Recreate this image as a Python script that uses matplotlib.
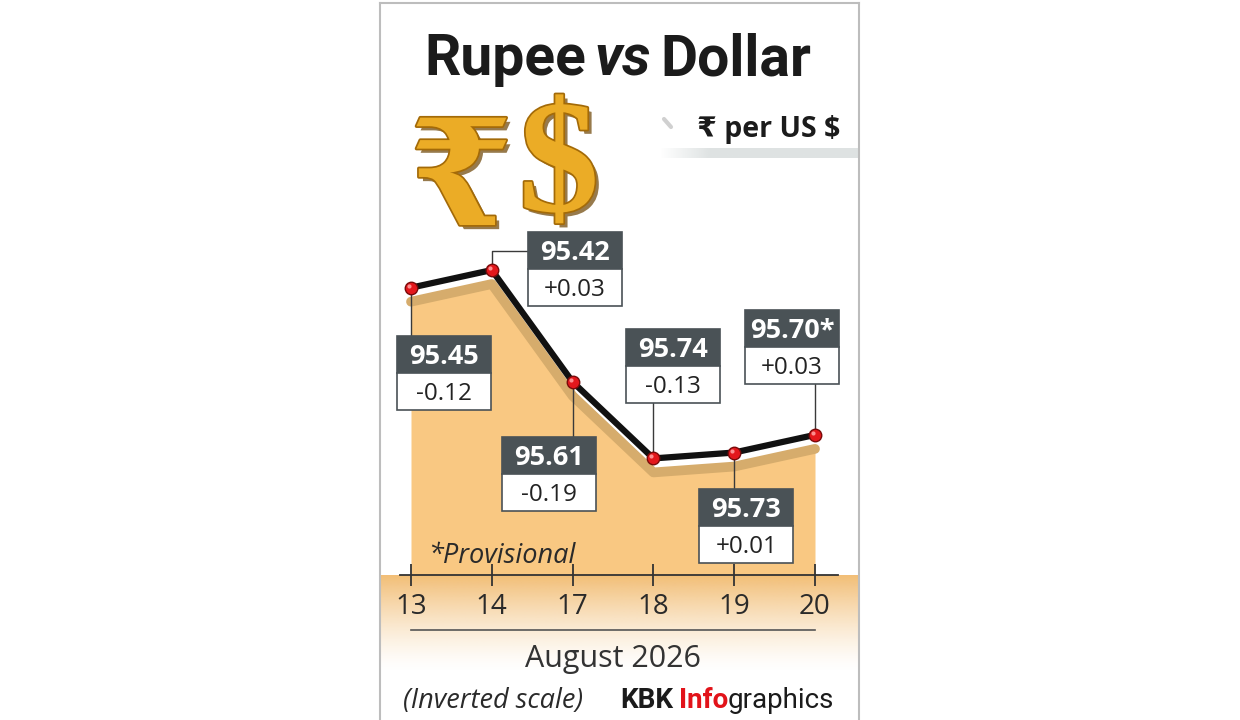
import numpy as np
import matplotlib
matplotlib.use("Agg")
from matplotlib import pyplot as plt
from matplotlib import patheffects as pe
from matplotlib import transforms as mtransforms
from matplotlib import font_manager
from matplotlib.colors import to_rgb
from matplotlib.patches import Rectangle

# 数据
dates = ["13", "14", "17", "18", "19", "20"]
rates = [95.45, 95.42, 95.61, 95.74, 95.73, 95.70]
changes = ["-0.12", "+0.03", "-0.19", "-0.13", "+0.01", "+0.03"]
provisional = [False, False, False, False, False, True]
month_label = "August 2026"

# 标签框相对数据点的位置 (像素)
box_dx = [33, 83, -24, 20, 12, -23]
box_dy = [48, -38, 55, -129, 36, -125]
BOX_W, HEAD_H, LOW_H = 94, 37, 37

plt.rcParams['font.family'] = ['Open Sans', 'DejaVu Sans']
installed = {f.name for f in font_manager.fontManager.ttflist}
if "Liberation Sans Narrow" in installed:
    narrow, title_size, foot_size = "Liberation Sans Narrow", 44, 22
else:
    narrow, title_size, foot_size = "Roboto", 41, 20

W, H = 1240, 720
fig = plt.figure(figsize=(W / 100, H / 100), dpi=100)
fig.patch.set_facecolor("white")

# 背景层，像素坐标
bg = fig.add_axes([0, 0, 1, 1], zorder=0)
bg.axis("off")

# 数据层
ax_l, ax_r, ax_b, ax_t = 381, 859, 575, 230
ax = fig.add_axes([ax_l / W, (H - ax_b) / H, (ax_r - ax_l) / W, (ax_b - ax_t) / H], zorder=1)
ax.set_facecolor("none")
unit = (815 - 411) / (len(dates) - 1)
ax.set_xlim(-(411 - ax_l) / unit, len(dates) - 1 + (ax_r - 815) / unit)
ax.set_ylim(95.938, 95.352)  # inverted scale

# 轴下方的渐变带
n = 120
t = np.linspace(0, 1, n)
band = np.zeros((n, 1, 4))
band[..., :3] = to_rgb("#F2BE76")
band[:, 0, 3] = (1 - t) ** 1.4
bg.imshow(band, extent=(ax_l, ax_r, 672, 575), aspect="auto", interpolation="bilinear", zorder=0)

# 单位下方的灰条
m = 200
stripe = np.zeros((1, m, 4))
stripe[..., :3] = to_rgb("#C9D0D0")
stripe[0, :, 3] = np.clip(np.linspace(0, 4, m), 0, 1) * 0.6
bg.imshow(stripe, extent=(660, ax_r, 158, 148), aspect="auto", interpolation="bilinear", zorder=0)
bg.plot([664, 671], [119, 127], color="#D0D0D0", lw=3, solid_capstyle="round")

# 面板边框
for xs, ys in [([380, 380], [3, H]), ([859, 859], [3, H]), ([380, 859], [3, 3])]:
    bg.plot(xs, ys, color="#BDBDBD", lw=1.5)

# 标题
t1 = bg.text(424, 75, "Rupee", fontfamily=narrow, fontweight="bold", fontsize=title_size,
             color="#1b1b1b", ha="left", va="baseline")
t2 = bg.annotate("vs", xy=(1, 0), xycoords=t1, xytext=(6, 0), textcoords="offset points",
                 fontfamily=narrow, fontweight="bold", fontstyle="italic", fontsize=title_size,
                 color="#1b1b1b", ha="left", va="bottom")
bg.annotate("Dollar", xy=(1, 0), xycoords=t2, xytext=(7, 0), textcoords="offset points",
            fontfamily=narrow, fontweight="bold", fontsize=title_size,
            color="#1b1b1b", ha="left", va="bottom")

# 金色符号
gold_fx = [pe.SimplePatchShadow(offset=(3, -3), shadow_rgbFace="#6B4200", alpha=0.7),
           pe.Stroke(linewidth=2.5, foreground="#A36A08"), pe.Normal()]
bg.text(461, 184, "₹", fontfamily=["DejaVu Serif", "DejaVu Sans"], fontweight="bold",
        fontsize=106, color="#EBAC26", ha="center", va="center", path_effects=gold_fx)
bg.text(559, 172, "$", fontfamily=["Liberation Serif", "DejaVu Serif"], fontweight="bold",
        fontsize=116, color="#EBAC26", ha="center", va="center", path_effects=gold_fx)

bg.text(697, 137, "₹ per US $", fontfamily=["Open Sans", "DejaVu Sans"], fontweight="bold",
        fontsize=20.5, color="#1b1b1b", ha="left", va="baseline")

bg.set_xlim(0, W)
bg.set_ylim(H, 0)

# 面积、阴影、折线
xs = np.arange(len(dates))
shadow_tr = mtransforms.offset_copy(ax.transData, fig=fig, x=0, y=-14, units="dots")
ax.fill_between(xs, rates, 95.938, color="#F9C882", lw=0, transform=shadow_tr, zorder=0.8)
ax.plot(xs, rates, color="#D6AC6C", lw=7, solid_capstyle="round", solid_joinstyle="round",
        transform=shadow_tr, zorder=1.2)
ax.plot(xs, rates, color="#111111", lw=4.5, solid_joinstyle="round", zorder=3, clip_on=False)
ax.plot(xs, rates, "o", ms=9, mfc="#E3171C", mec="#7A0A0A", mew=1.0, zorder=4, clip_on=False)
shine_tr = mtransforms.offset_copy(ax.transData, fig=fig, x=-2, y=2, units="dots")
ax.plot(xs, rates, "o", ms=3, mfc="#FF9C9C", mec="none", alpha=0.9, transform=shine_tr,
        zorder=4.1, clip_on=False)

# 坐标轴
for s in ["left", "right", "top"]:
    ax.spines[s].set_visible(False)
ax.spines["bottom"].set_bounds(-(411 - 400) / unit, len(dates) - 1 + (838 - 815) / unit)
ax.spines["bottom"].set_color("#333333")
ax.spines["bottom"].set_linewidth(1.3)
ax.set_yticks([])
ax.set_xticks(xs, dates)
ax.tick_params(axis="x", direction="inout", length=16, width=1.3, color="#333333",
               pad=5, labelsize=20, labelcolor="#2a2a2a")
ax.plot([0, len(dates) - 1], [-0.159, -0.159], transform=ax.get_xaxis_transform(),
        color="#555555", lw=1.2, clip_on=False)
ax.text((len(dates) - 1) / 2, -(667 - ax_b) / (ax_b - ax_t), month_label,
        transform=ax.get_xaxis_transform(), ha="center", va="baseline",
        fontsize=22, color="#333333")

# 数值标签框
pix = bg.transData.inverted().transform(ax.transData.transform(np.column_stack([xs, rates])))
px_tr = bg.transData
for i, (px, py) in enumerate(pix):
    cx = px + box_dx[i]
    top = py + box_dy[i]
    left = cx - BOX_W / 2
    if left <= px <= left + BOX_W:
        if top > py:
            seg = ([px, px], [py, top])
        else:
            seg = ([px, px], [top + HEAD_H + LOW_H, py])
    else:
        mid = top + HEAD_H / 2
        seg = ([px, px, left], [py, mid, mid])
    ax.plot(seg[0], seg[1], color="#3a3a3a", lw=1.0, transform=px_tr, clip_on=False, zorder=2.5)
    ax.add_patch(Rectangle((left, top), BOX_W, HEAD_H, fc="#4A5256", ec="#4A5256", lw=1.2,
                           transform=px_tr, clip_on=False, zorder=5))
    ax.add_patch(Rectangle((left, top + HEAD_H), BOX_W, LOW_H, fc="white", ec="#4A5256", lw=1.2,
                           transform=px_tr, clip_on=False, zorder=5))
    label = "%.2f" % rates[i] + ("*" if provisional[i] else "")
    ax.text(cx, top + HEAD_H / 2 + 9.5, label, transform=px_tr, ha="center", va="baseline",
            fontsize=19.5, fontweight="bold", color="white", zorder=6, clip_on=False)
    ax.text(cx, top + HEAD_H + LOW_H / 2 + 8.5, changes[i], transform=px_tr, ha="center",
            va="baseline", fontsize=17.5, color="#222222", zorder=6, clip_on=False)

ax.text(428, 563, "*Provisional", transform=px_tr, ha="left", va="baseline", fontsize=19.5,
        fontstyle="italic", color="#2a2a2a", zorder=6, clip_on=False)

# 脚注
bg.text(403, 708, "(Inverted scale)", ha="left", va="baseline", fontsize=19.5,
        fontstyle="italic", color="#2a2a2a")
f1 = bg.text(620, 708, "KBK", fontfamily=narrow, fontweight="bold", fontsize=foot_size,
             color="#1b1b1b", ha="left", va="baseline")
f2 = bg.annotate("Info", xy=(1, 0), xycoords=f1, xytext=(4, 0), textcoords="offset points",
                 fontfamily=narrow, fontweight="bold", fontsize=foot_size, color="#E2131A",
                 ha="left", va="bottom")
bg.annotate("graphics", xy=(1, 0), xycoords=f2, xytext=(0, 0), textcoords="offset points",
            fontfamily=narrow, fontsize=foot_size, color="#1b1b1b", ha="left", va="bottom")

fig.savefig("out.png", dpi=100, facecolor="white")
